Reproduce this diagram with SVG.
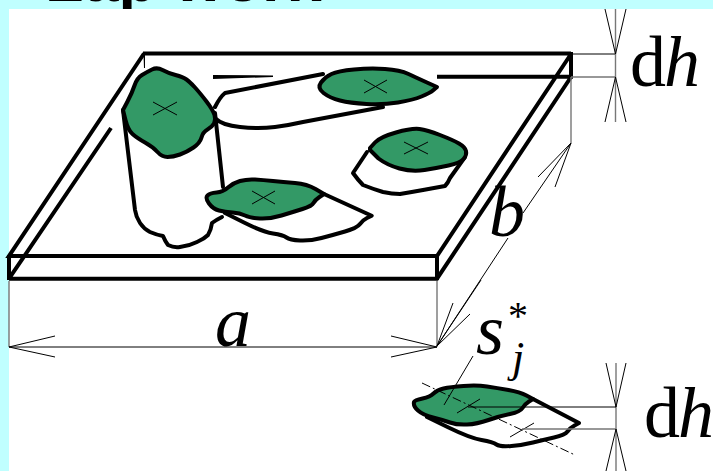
<svg xmlns="http://www.w3.org/2000/svg" width="713" height="471" viewBox="0 0 713 471">
<style>
.k{fill:none;stroke:#000;stroke-width:4;stroke-linejoin:round;stroke-linecap:round}
.p{fill:none;stroke:#000;stroke-width:4;stroke-linecap:butt;stroke-linejoin:miter}
.g{fill:#339966;stroke:#000;stroke-width:4;stroke-linejoin:round}
.t{fill:none;stroke:#000;stroke-width:1}
.h{fill:none;stroke:#777;stroke-width:1.4}
.r{font-family:"Liberation Serif",serif;fill:#000}
.i{font-family:"Liberation Serif",serif;font-style:italic;fill:#000}
</style>
<rect width="713" height="471" fill="#c0ffff"/>
<text x="45" y="0.500" font-family="Liberation Sans,sans-serif" font-weight="bold" font-size="63" fill="#000">Lap work</text>
<rect x="9" y="9" width="704" height="462" fill="#fff"/>
<g id="plate">
<path class="p" d="M143 53.500H571M144 53.500L9 256H437L571 54M9 278.700H437L571 77M9 278.700L111 128M437 76.700H571V52M9 255V280M437 255V280"/>
<path d="M143.500 54H145V68H144Z" fill="#000"/>
<path d="M213 75L273 75.500V77L213 79Z" fill="#000"/>
</g>
<g id="particle-1">
<path class="k" d="M123 110L135 210Q136 217 140 223Q144 229 150 232Q157 235 163 236Q165 241 168 245Q174 248 180 247Q189 246 197 242Q204 239 208 235Q211 230 212 223Q216 220 222 217M215 113L223 187"/>
<path class="g" d="M162.500 70Q168 73 175.500 75Q183 77 186.500 79.500Q190 82 195 87.500Q200 93 206.500 101.500Q213 110 214.500 115Q216 120 214 123.500Q212 127 207.500 129.500Q203 132 201.500 137.500Q200 143 193.500 147.500Q187 152 180 154.500Q173 157 167.500 157Q162 157 157.500 152Q153 147 145 142.500Q137 138 132.500 134Q128 130 125.500 120L123 110L127.500 101.500Q132 93 134.500 85.500Q137 78 142 75Q147 72 152 69.500Q157 67 162.500 70Z"/>
<path class="t" d="M153 102L177 115M153 115L177 102"/>
</g>
<g id="particle-2">
<path class="k" d="M324 194L371.700 215.700L367 218Q363 220 360 224Q357 228 345 231.500Q333 235 321.500 238Q310 241 300 240.500Q290 240 286.500 237.500Q283 235 273 233.500Q263 232 244 222.500L225 213"/>
<path class="g" d="M207.500 195.500Q210 193 216.500 192.500Q223 192 228 187.500Q233 183 240 181Q247 179 255 179.500Q263 180 273 181Q283 182 295 183Q307 184 315.500 189L324 194L319.500 197Q315 200 313.500 203Q312 206 302.500 209Q293 212 281.500 215.500Q270 219 260 218.500Q250 218 245 215.500Q240 213 232.500 212.500Q225 212 219 210.500Q213 209 209 203.500Q205 198 207.500 195.500Z"/>
<path class="t" d="M252 191L275 204M252 204L275 191"/>
</g>
<g id="particle-3">
<path class="k" d="M215 107Q220 97 225 93L323 74M216 119Q222 125 240 127Q258 129 275 127Q290 125 303 122L383 107"/>
<path class="g" d="M321 82.500Q325 77 331.500 74Q338 71 354 69.500Q370 68 385 69Q400 70 408.500 74Q417 78 427 82.500L437 87L433.500 90Q430 93 421.500 96.500Q413 100 398 102.500Q383 105 366.500 104Q350 103 340 100.500Q330 98 323.500 93Q317 88 321 82.500Z"/>
<path class="t" d="M364 80L387 93M364 93L387 80"/>
</g>
<g id="particle-4">
<path class="k" d="M367 152L353 173Q358 180 363 185Q373 189 383 192Q392 194 400 194Q412 192 423 190Q434 188 445 186Q448 183 450 178L465 157"/>
<path class="g" d="M375 142.500Q380 137 396 132.500Q412 128 419.500 129Q427 130 440 135Q453 140 459 143.500Q465 147 466 151Q467 155 463.500 159Q460 163 448.500 165.500Q437 168 424.500 170Q412 172 399.500 168.500Q387 165 378.500 158.500L370 150L370 148Z"/>
<path class="t" d="M404 154L428 142M404 142L428 154"/>
</g>
<g id="particle-detail">
<path class="k" d="M533 399L579 423L574.500 425.500Q570 428 567.500 431.500Q565 435 554 437.500Q543 440 533 442.500Q523 445 511.500 446Q500 447 496.500 444.500Q493 442 481.500 440Q470 438 448.500 427.500L427 417"/>
<path class="g" d="M414 402Q415 400 422.500 398.500Q430 397 433.500 393.500Q437 390 443.500 388.500Q450 387 463.500 386Q477 385 487 386.500Q497 388 508.500 390Q520 392 526.500 395.500L533 399L529 401.500Q525 404 522.500 408Q520 412 510 414Q500 416 488.500 420Q477 424 467 424.500Q457 425 450 422.500Q443 420 433 417.500Q423 415 418 410.500Q413 406 414 402Z"/>
<path class="t" d="M457 413L480 399M510 437L534 423"/>
</g>
<g id="connectors">
<path class="h" d="M9 281V347M437 281V347M571 77V143M571 77H615M522 429H616M615.500 9V122M616 363V471"/>
<path class="t" d="M572 54H615M468 407H616M9 347H437M55 336L9 347L55 357M391 336L437 347L391 357M605 9L615.500 54L626 9M605 122L615.500 77L626 122M606 363L616 407L626 363M606 471L616 429L626 471M571 143L523 213M508 238L437 346M538 177L571 143L555 187M453 303L437 346L470 314M437 346L481 280M473 356L444 405"/>
<path class="t" stroke-dasharray="9 3 2 3" d="M422 383L575 455"/>
</g>
<g id="labels">
<text class="r" x="630" y="86" font-size="72" letter-spacing="-2">d<tspan class="i">h</tspan></text>
<text class="i" x="489" y="236" font-size="72">b</text>
<text class="i" x="215" y="346" font-size="72">a</text>
<text class="i" x="476" y="354" font-size="72">s</text>
<text class="r" x="508" y="329" font-size="40">*</text>
<text class="i" x="512" y="372" font-size="44">j</text>
<text class="r" x="644" y="437" font-size="72" letter-spacing="-2">d<tspan class="i">h</tspan></text>
</g>
</svg>
